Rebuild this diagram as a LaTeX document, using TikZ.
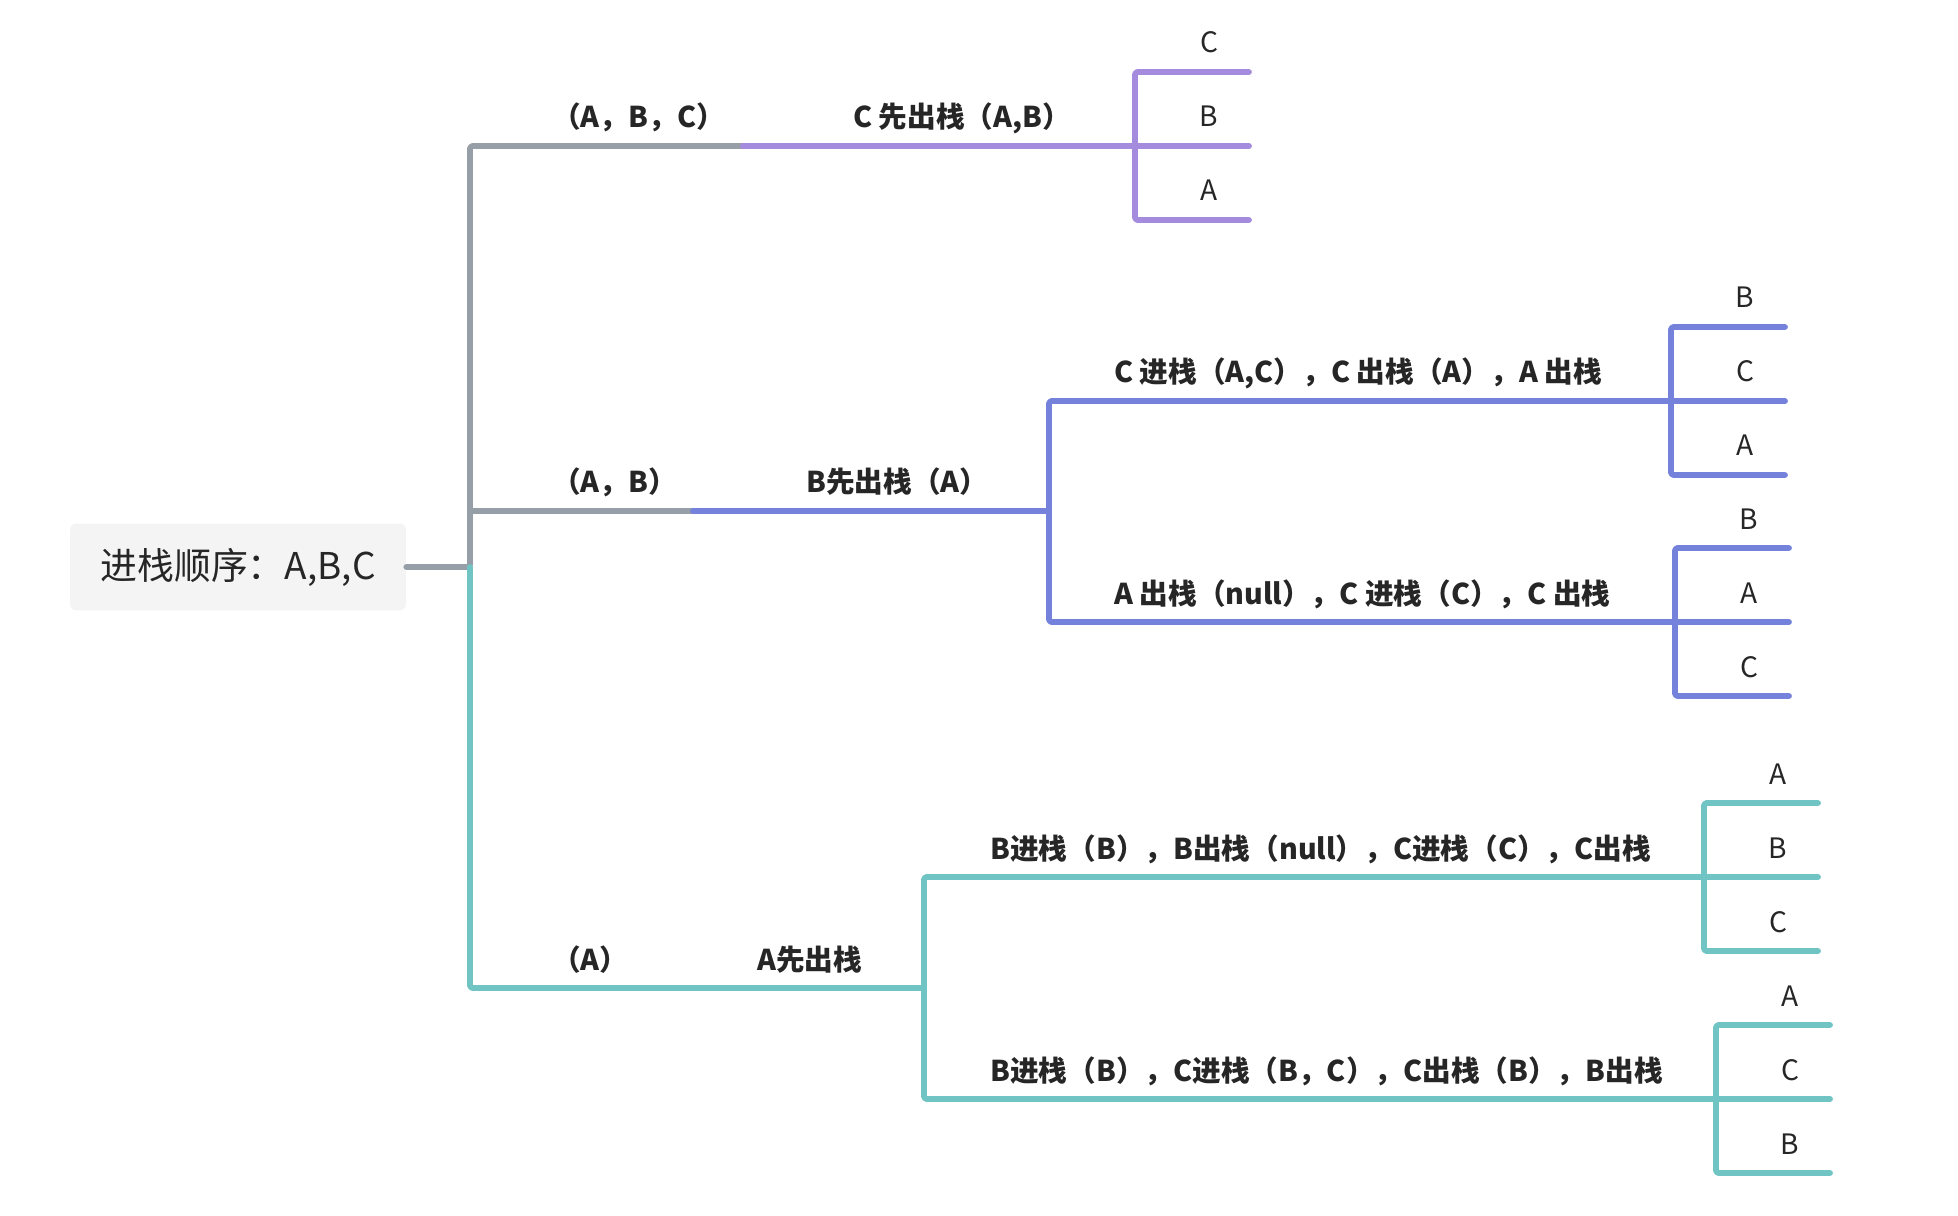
\documentclass[tikz,border=0pt]{standalone}
\usepackage{fontspec}
\setmainfont{Noto Sans CJK SC}
\usetikzlibrary{positioning}
\definecolor{trunkgray}{HTML}{969EA7}
\definecolor{popurple}{HTML}{A58BDE}
\definecolor{poblue}{HTML}{7582DB}
\definecolor{poteal}{HTML}{70C4C4}
\definecolor{rootfill}{HTML}{F4F4F4}
\definecolor{txt}{HTML}{262626}

\begin{document}
\begin{tikzpicture}[x=0.02cm, y=-0.02cm,
  branch/.style={line width=3.3pt, line cap=round, line join=round, rounded corners=1.5pt},
  steplabel/.style={anchor=base west, inner sep=0pt, text=txt,
    font=\bfseries\fontsize{16.3}{18}\selectfont},
  leaf/.style={anchor=base, inner sep=0pt, text=txt,
    font=\fontsize{16}{18}\selectfont}]
  \useasboundingbox (0,0) rectangle (1958,1216);
  % Root
  \node[fill=rootfill, rounded corners=3.5pt, minimum width=6.72cm,
    minimum height=1.74cm, text=txt, font=\fontsize{21}{24}\selectfont]
    (root) at (238,567) {进栈顺序：A,B,C};
  % Trunk
  \coordinate (t0) at (470,567);
  \coordinate (t1) at (470,146);
  \coordinate (t2) at (470,511);
  \coordinate (t3) at (470,988);
  \coordinate (g1) at (743,146);
  \coordinate (g2) at (693,511);
  \draw[branch, trunkgray] (root.east) -- (t0) -- (t1) -- (g1);
  \draw[branch, trunkgray] (t2) -- (g2);
  \draw[branch, poteal] (t0) -- (t3) -- (924,988) coordinate (j3);
  % First level
  \coordinate (j1) at (1135,146);
  \coordinate (j2) at (1049,511);
  \draw[branch, popurple] (g1) -- (j1);
  \draw[branch, poblue] (g2) -- (j2);
  \node[steplabel] (b1in) at (552,128) {（A，B，C）};
  \node[steplabel] (b1out) at (853,128) {C 先出栈（A,B）};
  \node[steplabel] (b2in) at (552,493) {（A，B）};
  \node[steplabel] (b2out) at (806,493) {B先出栈（A）};
  \node[steplabel] (b3in) at (552,970) {（A）};
  \node[steplabel] (b3out) at (757,970) {A先出栈};
  % Second level
  \coordinate (j2a) at (1671,401);
  \coordinate (j2b) at (1675,622);
  \coordinate (j3a) at (1704,877);
  \coordinate (j3b) at (1716,1099);
  \draw[branch, poblue] (j2a) -| (j2) |- (j2b);
  \draw[branch, poteal] (j3a) -| (j3) |- (j3b);
  \node[steplabel] (s2a) at (1114,383) {C 进栈（A,C），C 出栈（A），A 出栈};
  \node[steplabel] (s2b) at (1114,604) {A 出栈（null），C 进栈（C），C 出栈};
  \node[steplabel] (s3a) at (990,859) {B进栈（B），B出栈（null），C进栈（C），C出栈};
  \node[steplabel] (s3b) at (990,1081) {B进栈（B），C进栈（B，C），C出栈（B），B出栈};
  % Final orders
  \foreach \nm/\bx/\by/\col/\la/\lb/\lc in {
      p/1135/146/popurple/C/B/A, ba/1671/401/poblue/B/C/A,
      bb/1675/622/poblue/B/A/C, ta/1704/877/poteal/A/B/C,
      tb/1716/1099/poteal/A/C/B}{
    \coordinate (\nm top) at (\bx,{\by-74});
    \coordinate (\nm bot) at (\bx,{\by+74});
    \coordinate (\nm mid) at (\bx,\by);
    \coordinate (\nm topend) at ({\bx+114},{\by-74});
    \coordinate (\nm midend) at ({\bx+114},\by);
    \coordinate (\nm botend) at ({\bx+114},{\by+74});
    \draw[branch, draw=\col] (\nm topend) -- (\nm top) -- (\nm bot) -- (\nm botend);
    \draw[branch, draw=\col] (\nm mid) -- (\nm midend);
    \node[leaf] (\nm1) at ({\bx+74},{\by-93}) {\la};
    \node[leaf] (\nm2) at ({\bx+74},{\by-19}) {\lb};
    \node[leaf] (\nm3) at ({\bx+74},{\by+55}) {\lc};
  }
\end{tikzpicture}
\end{document}
